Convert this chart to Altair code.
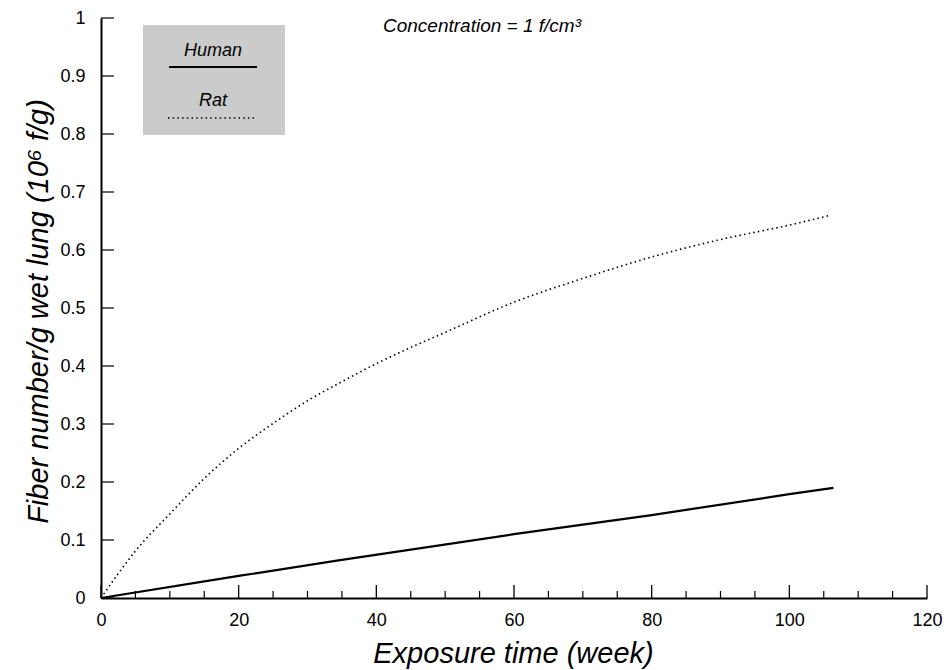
import altair as alt
import pandas as pd

# Data
human_week = [0, 20, 34.5, 60, 80, 100, 106.4]
human_val = [0, 0.038, 0.065, 0.110, 0.143, 0.179, 0.19]

rat_week = [0, 2.5, 5, 10, 15, 20, 25, 30, 35, 40, 45, 50, 60, 70, 80, 90, 100, 106]
rat_val = [0, 0.042, 0.081, 0.145, 0.206, 0.258, 0.301, 0.340, 0.373, 0.404,
           0.432, 0.458, 0.510, 0.551, 0.588, 0.618, 0.643, 0.66]

x_major = [0, 20, 40, 60, 80, 100, 120]
x_minor = [5, 10, 15, 25, 30, 35, 45, 50, 55, 65, 70, 75, 85, 90, 95, 105, 110, 115]
y_ticks = [round(i / 10, 1) for i in range(11)]

series_names = ["Human", "Rat"]
annotation = "Concentration = 1 f/cm³"
x_title = "Exposure time (week)"
y_title = "Fiber number/g wet lung (10⁶ f/g)"

FONT = "Liberation Sans"

human_df = pd.DataFrame({"week": human_week, "value": human_val})
rat_df = pd.DataFrame({"week": rat_week, "value": rat_val})

xscale = alt.Scale(domain=[0, 120], nice=False, zero=True)
yscale = alt.Scale(domain=[0, 1], nice=False, zero=True)

x_axis = alt.Axis(values=x_major, ticks=False, grid=False, labelFontSize=18,
                  labelPadding=13, labelFlush=False, labelOverlap=False,
                  domainWidth=2, domainColor="black", labelColor="black",
                  labelFont=FONT, title=x_title, titleFont=FONT, titleFontSize=29,
                  titleFontStyle="italic", titleFontWeight="normal", titleColor="black",
                  titleX=412, titleY=55, titleAlign="center", titleBaseline="middle")
y_axis = alt.Axis(values=y_ticks, ticks=False, grid=False, labelFontSize=18,
                  labelPadding=16, format="~g", labelOverlap=False, labelFlush=False,
                  domainWidth=2, domainColor="black", labelColor="black",
                  labelFont=FONT, title=y_title, titleFont=FONT, titleFontSize=29,
                  titleFontStyle="italic", titleFontWeight="normal", titleColor="black",
                  titleX=-63, titleY=293, titleAlign="center", titleBaseline="middle",
                  titleAngle=270)

human = alt.Chart(human_df).mark_line(color="black", strokeWidth=2.2).encode(
    x=alt.X("week:Q", scale=xscale, axis=x_axis),
    y=alt.Y("value:Q", scale=yscale, axis=y_axis),
)
rat = alt.Chart(rat_df).mark_line(color="black", strokeWidth=1.6,
                                  strokeDash=[1.5, 3.2], interpolate="monotone").encode(
    x=alt.X("week:Q", scale=xscale),
    y=alt.Y("value:Q", scale=yscale),
)

yt = alt.Chart(pd.DataFrame({"value": y_ticks})).mark_rule(color="black", strokeWidth=1.2).encode(
    y=alt.Y("value:Q", scale=yscale), x=alt.value(0), x2=alt.value(13))
xt_major = alt.Chart(pd.DataFrame({"week": x_major})).mark_rule(color="black", strokeWidth=1.3).encode(
    x=alt.X("week:Q", scale=xscale), y=alt.value(580), y2=alt.value(567))
xt_minor = alt.Chart(pd.DataFrame({"week": x_minor})).mark_rule(color="black", strokeWidth=1.2).encode(
    x=alt.X("week:Q", scale=xscale), y=alt.value(580), y2=alt.value(573))

# legend box (pixel positions relative to plot area)
box = alt.Chart(pd.DataFrame({"k": [0]})).mark_rect(color="#cbcbcb").encode(
    x=alt.value(42), x2=alt.value(184), y=alt.value(7), y2=alt.value(117))
leg_text = alt.Chart(pd.DataFrame({"name": series_names, "py": [33, 83]})).mark_text(
    font=FONT, fontSize=18, fontStyle="italic", color="black", align="center", baseline="middle"
).encode(text="name:N", x=alt.value(112), y=alt.Y("py:Q", scale=None))
leg_human = alt.Chart(pd.DataFrame({"k": [0]})).mark_rule(color="black", strokeWidth=2).encode(
    x=alt.value(68), x2=alt.value(156), y=alt.value(49))
leg_rat = alt.Chart(pd.DataFrame({"k": [0]})).mark_rule(color="black", strokeWidth=1.6,
                                                         strokeDash=[1.5, 3.2]).encode(
    x=alt.value(67), x2=alt.value(153), y=alt.value(100))

note = alt.Chart(pd.DataFrame({"t": [annotation]})).mark_text(
    font=FONT, fontSize=19, fontStyle="italic", color="black", align="left", baseline="middle"
).encode(text="t:N", x=alt.value(282), y=alt.value(8))

chart = alt.layer(box, leg_text, leg_human, leg_rat, note, human, rat, yt, xt_major, xt_minor).properties(
    width=826, height=580,
    autosize=alt.AutoSizeParams(type="none"),
    padding={"left": 101, "top": 18, "right": 21, "bottom": 72},
    background="white",
).configure_view(stroke=None)

chart.save("out.html", embed_options={"renderer": "svg", "actions": False})
